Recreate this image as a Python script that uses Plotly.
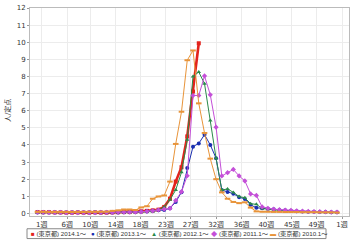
import plotly.graph_objects as go

weeks = list(range(1, 54))

s2014 = [0.08, 0.07, 0.07, 0.06, 0.06, 0.05, 0.05, 0.06, 0.05, 0.05, 0.06, 0.05, 0.05, 0.06, 0.07,
         0.08, 0.08, 0.10, 0.12, 0.15, 0.18, 0.22, 0.38, 0.86, 1.86, 2.70, 4.50, 7.12, 9.94]
s2013 = [0.06, 0.06, 0.05, 0.05, 0.05, 0.05, 0.05, 0.05, 0.05, 0.05, 0.05, 0.05, 0.06, 0.06, 0.06,
         0.07, 0.08, 0.08, 0.10, 0.12, 0.15, 0.18, 0.20, 0.30, 0.67, 1.24, 2.66, 3.90, 4.09, 4.60,
         4.00, 3.23, 1.37, 1.25, 1.15, 0.95, 0.85, 0.50, 0.33, 0.30, 0.28, 0.25, 0.20, 0.18, 0.15,
         0.13, 0.12, 0.10, 0.10, 0.08, 0.08, 0.07, 0.07]
s2012 = [0.06, 0.06, 0.06, 0.05, 0.05, 0.05, 0.05, 0.05, 0.05, 0.05, 0.05, 0.05, 0.05, 0.06, 0.06,
         0.06, 0.07, 0.07, 0.08, 0.10, 0.12, 0.20, 0.38, 0.80, 1.37, 2.40, 4.30, 8.00, 8.26, 7.58,
         5.43, 3.23, 1.37, 1.43, 1.23, 0.99, 0.91, 0.57, 0.53, 0.29, 0.25, 0.20, 0.18, 0.15, 0.14,
         0.12, 0.10, 0.10, 0.08, 0.08, 0.07, 0.06, 0.06]
s2011 = [0.07, 0.07, 0.06, 0.06, 0.06, 0.05, 0.05, 0.05, 0.05, 0.05, 0.05, 0.06, 0.06, 0.06, 0.07,
         0.07, 0.08, 0.08, 0.10, 0.12, 0.15, 0.20, 0.25, 0.29, 0.76, 1.27, 2.20, 6.89, 6.89, 8.03,
         6.93, 5.04, 2.19, 2.38, 2.57, 2.19, 1.90, 1.14, 1.05, 0.38, 0.30, 0.25, 0.22, 0.20, 0.18,
         0.15, 0.13, 0.12, 0.10, 0.10, 0.09, 0.08, 0.08]
s2010 = [0.09, 0.09, 0.08, 0.08, 0.08, 0.08, 0.08, 0.08, 0.08, 0.09, 0.09, 0.10, 0.10, 0.15, 0.18,
         0.23, 0.23, 0.20, 0.35, 0.42, 0.86, 0.99, 1.05, 1.86, 4.06, 5.94, 8.95, 9.52, 6.43, 4.70,
         3.20, 2.00, 1.23, 0.86, 0.67, 0.60, 0.65, 0.34, 0.12, 0.10, 0.10, 0.09, 0.09, 0.08, 0.08,
         0.08, 0.07, 0.07, 0.07, 0.06, 0.06, 0.06, 0.05]

names = ["(東京都) 2014.1～", "(東京都) 2013.1～", "(東京都) 2012.1～", "(東京都) 2011.1～", "(東京都) 2010.1～"]
series = [s2014, s2013, s2012, s2011, s2010]
colors = ["#e3231c", "#1a2fb0", "#2a8a4a", "#c44fd8", "#e8943a"]
symbols = ["square", "circle", "triangle-up", "diamond", "line-ew"]
widths = [2.6, 1.0, 1.0, 1.0, 1.0]
legend_glyphs = ["■", "●", "▲", "◆", "▬"]

tick_labels = ["1週", "6週", "10週", "14週", "18週", "23週", "27週", "32週", "36週", "40週", "45週", "49週", "1週"]
month_days = [0, 31, 28, 31, 30, 31, 30, 31, 31, 30, 31, 30, 31]
y_title = "人/定点"

# tick positions: month starts expressed in week units
tickvals = []
acc = 0
for d in month_days:
    acc += d
    tickvals.append(1.73 + acc / 7.0)

FONT = "DejaVu Sans, Noto Sans CJK JP"
LEG_FONT = "Liberation Sans, Noto Sans CJK JP"

fig = go.Figure()
for name, ys, c, sym, w in zip(names, series, colors, symbols, widths):
    mk = dict(symbol=sym, size=4, color=c)
    if sym == "line-ew":
        mk = dict(symbol=sym, size=4, color=c, line=dict(color=c, width=2))
    fig.add_trace(go.Scatter(
        x=weeks[:len(ys)], y=ys, mode="lines+markers", name=name,
        line=dict(color=c, width=w), marker=mk, showlegend=False,
    ))

fig.update_layout(
    width=360, height=240,
    margin=dict(l=30, r=11, t=4, b=24),
    paper_bgcolor="white", plot_bgcolor="white",
    font=dict(family=FONT, size=7, color="#333333"),
    xaxis=dict(range=[-0.3, 55.08], tickmode="array", tickvals=tickvals, ticktext=tick_labels,
               showgrid=True, gridcolor="#ececec", gridwidth=1, zeroline=False,
               showline=True, linecolor="#bbbbbb", mirror=True, ticks="outside", ticklen=2,
               tickcolor="#999999", tickfont=dict(size=7, color="#333333")),
    yaxis=dict(range=[-0.15, 12], tickmode="linear", tick0=0, dtick=1,
               showgrid=True, gridcolor="#ececec", gridwidth=1, zeroline=False,
               showline=True, linecolor="#bbbbbb", mirror=True, ticks="outside", ticklen=2,
               tickcolor="#999999", tickfont=dict(size=7, color="#333333")),
)

fig.add_annotation(text=y_title, textangle=-90, xref="paper", yref="paper",
                   x=(8 - 30) / 319, y=(216 - 109) / 212, showarrow=False,
                   font=dict(size=7, color="#333333"), xanchor="center", yanchor="middle")

# legend box and entries
fig.add_shape(type="rect", xref="paper", yref="paper",
              x0=(27 - 30) / 319, x1=(326 - 30) / 319,
              y0=(216 - 239) / 212, y1=(216 - 229) / 212,
              line=dict(color="#888888", width=1), fillcolor="white")
leg_x = [29, 89, 149, 209, 268]
for px, name, c, g in zip(leg_x, names, colors, legend_glyphs):
    fig.add_annotation(text=f"<span style='color:{c}'>{g}</span> {name}",
                       xref="paper", yref="paper", x=(px - 30) / 319, y=(216 - 234) / 212,
                       xanchor="left", yanchor="middle", showarrow=False,
                       font=dict(family=LEG_FONT, size=6.2, color="#333333"))

fig.write_html("out.html")
